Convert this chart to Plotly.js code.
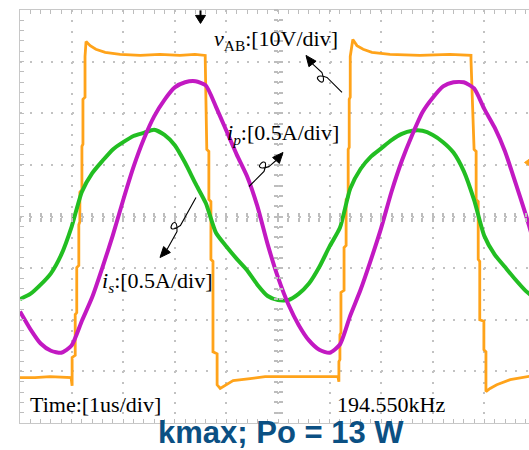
<!DOCTYPE html>
<html><head><meta charset="utf-8">
<script src="https://cdn.plot.ly/plotly-3.0.1.min.js"></script>
<style>html,body{margin:0;padding:0;background:#fff;}#chart{width:529px;height:450px;}</style>
</head><body><div id="chart"></div>
<script>
// ---- data (time in us, 1 us/div; vAB in V, 10 V/div; currents in A, 0.5 A/div) ----
const tV = [
  0, 0.29, 0.58, 0.87, 0.99, 1.01, 1.01, 1.07, 1.07, 1.10,
  1.10, 1.14, 1.14, 1.16, 1.16, 1.20, 1.20, 1.22, 1.22, 1.26,
  1.26, 1.28, 1.36, 1.47, 1.65, 1.94, 2.33, 2.71, 3.10, 3.39,
  3.59, 3.59, 3.60, 3.62, 3.66, 3.66, 3.70, 3.70, 3.74, 3.74,
  3.82, 3.82, 3.88, 3.97, 4.13, 4.46, 4.75, 5.23, 5.72, 6.16,
  6.18, 6.18, 6.20, 6.20, 6.22, 6.22, 6.28, 6.28, 6.32, 6.32,
  6.36, 6.36, 6.38, 6.38, 6.40, 6.40, 6.45, 6.53, 6.65, 6.82,
  7.17, 7.75, 8.33, 8.74, 8.74, 8.76, 8.80, 8.84, 8.84, 8.88,
  8.88, 8.91, 8.91, 8.99, 8.99, 9.03, 9.03, 9.11, 9.24, 9.50,
  9.86, 9.96
];
const vAB = [
  -31.2, -31.2, -31.0, -31.2, -31.2, -32.8, -27.3, -26.9, -19.0, -18.6,
  -9.9, -9.5, -1.6, -1.0, 4.7, 5.2, 13.6, 14.0, 22.7, 23.1,
  31.0, 33.9, 33.1, 32.4, 31.8, 31.4, 31.2, 31.4, 31.2, 31.4,
  31.2, 30.4, 22.7, 13.0, 12.6, 3.3, 2.9, -8.3, -8.7, -26.2,
  -26.6, -32.6, -33.3, -32.8, -31.8, -31.4, -31.0, -31.0, -31.0, -31.0,
  -32.0, -28.1, -27.7, -22.9, -22.5, -14.7, -14.3, -6.0, -5.6, 3.3,
  3.7, 13.0, 13.4, 22.7, 23.1, 31.0, 34.3, 33.1, 32.4, 31.8,
  31.4, 31.2, 31.4, 31.2, 30.4, 22.7, 13.0, 12.6, 3.3, 2.9,
  -8.3, -8.7, -20.0, -20.3, -25.8, -26.2, -33.9, -33.3, -32.6, -31.6,
  -31.0, -30.8
];
const tI = [
  0, 0.2, 0.4, 0.6, 0.8, 1.0, 1.2, 1.4, 1.6, 1.8,
  2.0, 2.2, 2.4, 2.6, 2.8, 3.0, 3.2, 3.4, 3.6, 3.8,
  4.0, 4.2, 4.4, 4.6, 4.8, 5.0, 5.2, 5.4, 5.6, 5.8,
  6.0, 6.2, 6.4, 6.6, 6.8, 7.0, 7.2, 7.4, 7.6, 7.8,
  8.0, 8.2, 8.4, 8.6, 8.8, 9.0, 9.2, 9.4, 9.6, 9.8,
  10.0
];
const iP = [
  -0.92, -1.09, -1.23, -1.30, -1.32, -1.25, -1.01, -0.78, -0.49, -0.18,
  0.16, 0.48, 0.75, 0.97, 1.13, 1.25, 1.30, 1.31, 1.27, 1.06,
  0.83, 0.60, 0.39, 0.10, -0.27, -0.59, -0.85, -1.05, -1.20, -1.29,
  -1.32, -1.24, -0.96, -0.71, -0.42, -0.11, 0.24, 0.54, 0.79, 1.01,
  1.15, 1.26, 1.30, 1.30, 1.24, 1.04, 0.86, 0.63, 0.33, 0.02,
  -0.32
];
const iS = [
  -0.80, -0.75, -0.66, -0.55, -0.37, -0.10, 0.24, 0.42, 0.54, 0.65,
  0.72, 0.78, 0.81, 0.84, 0.79, 0.69, 0.52, 0.32, 0.13, -0.16,
  -0.29, -0.41, -0.52, -0.66, -0.77, -0.81, -0.81, -0.75, -0.65, -0.49,
  -0.29, -0.11, 0.27, 0.46, 0.58, 0.66, 0.74, 0.80, 0.83, 0.83,
  0.79, 0.72, 0.62, 0.44, 0.16, -0.19, -0.37, -0.49, -0.61, -0.72,
  -0.80
];
const labelVAB = '<i>v</i><sub>AB</sub>:[10V/div]';
const labelIP = '<i>i</i><sub><i>p</i></sub>:[0.5A/div]';
const labelIS = '<i>i</i><sub><i>s</i></sub>:[0.5A/div]';
const labelTime = 'Time:[1us/div]';
const labelFreq = '194.550kHz';
const caption = 'kmax; Po = 13 W';

// ---- helpers for decoration geometry (screen px of the 529x450 frame -> axis units) ----
const PXDIV = 51.6;
const X = px => (px - 20) / PXDIV;
const Y = py => (217 - py) / PXDIV * 10;
const pt = (p) => X(p[0]).toFixed(4) + ',' + Y(p[1]).toFixed(4);
function loopArrow(tail, a, s, base, tip, hw, nsign) {
  const dx = base[0] - tail[0], dy = base[1] - tail[1];
  const L = Math.hypot(dx, dy);
  const u = [dx / L, dy / L];
  const n = nsign > 0 ? [-u[1], u[0]] : [u[1], -u[0]];
  const p1 = [a[0] + s * (3 * u[0] + 1.5 * n[0]), a[1] + s * (3 * u[1] + 1.5 * n[1])];
  const p2 = [a[0] + s * (-2 * u[0] + 1.5 * n[0]), a[1] + s * (-2 * u[1] + 1.5 * n[1])];
  const p3 = [a[0] + s * u[0], a[1] + s * u[1]];
  const curve = 'M' + pt(tail) + ' L' + pt(a) + ' C' + pt(p1) + ' ' + pt(p2) + ' ' + pt(p3) + ' L' + pt(base);
  const hx = tip[0] - base[0], hy = tip[1] - base[1];
  const hl = Math.hypot(hx, hy);
  const pp = [-hy / hl, hx / hl];
  const head = 'M' + pt(tip) + ' L' + pt([base[0] + hw * pp[0], base[1] + hw * pp[1]]) +
               ' L' + pt([base[0] - hw * pp[0], base[1] - hw * pp[1]]) + ' Z';
  return [
    {type: 'path', xref: 'x', yref: 'y', path: curve, line: {color: '#000', width: 1.1}, fillcolor: 'rgba(0,0,0,0)', layer: 'above'},
    {type: 'path', xref: 'x', yref: 'y', path: head, line: {color: '#000', width: 1}, fillcolor: '#000', layer: 'above'}
  ];
}

const shapes = [].concat(
  loopArrow([342, 93], [327, 78], 7, [312.5, 64.5], [306, 56], 4.5, -1),
  loopArrow([249, 187], [264, 172], 7, [276, 161], [283, 153], 4.5, -1),
  loopArrow([196, 198], [180.4, 226], 7, [167, 250], [160, 258], 4.5, 1),
  [
    // trigger position marker (top)
    {type: 'path', xref: 'x', yref: 'y', path: 'M' + pt([200.5, 11]) + ' L' + pt([200.5, 17]),
     line: {color: '#000', width: 2}},
    {type: 'path', xref: 'x', yref: 'y',
     path: 'M' + pt([195.5, 16]) + ' L' + pt([205.5, 16]) + ' L' + pt([200.5, 24]) + ' Z',
     line: {color: '#000', width: 1}, fillcolor: '#000'},
    // channel level marker (right edge)
    {type: 'path', xref: 'x', yref: 'y',
     path: 'M' + pt([524.5, 163]) + ' L' + pt([531, 158.5]) + ' L' + pt([531, 167.5]) + ' Z',
     line: {color: '#FFA31A', width: 1}, fillcolor: '#FFA31A'}
  ]
);

const GRID = '#c2c2c2';
const TICK = '#bdbdbd';
const xr = [0, 509 / PXDIV];
const serif = 'Liberation Serif, Times New Roman, serif';

const traces = [
  {x: tV, y: vAB, type: 'scatter', mode: 'lines', xaxis: 'x', yaxis: 'y',
   line: {color: '#FFA31A', width: 2.8}},
  {x: tI, y: iS, type: 'scatter', mode: 'lines', xaxis: 'x', yaxis: 'y2',
   line: {color: '#22BE22', width: 4, shape: 'spline', smoothing: 0.6}},
  {x: tI, y: iP, type: 'scatter', mode: 'lines', xaxis: 'x', yaxis: 'y2',
   line: {color: '#C219C2', width: 4, shape: 'spline', smoothing: 0.6}},
  // carriers for the centre graticule tick axes
  {x: [], y: [], xaxis: 'x2', yaxis: 'y', type: 'scatter', showlegend: false},
  {x: [], y: [], xaxis: 'x3', yaxis: 'y', type: 'scatter', showlegend: false},
  {x: [], y: [], xaxis: 'x', yaxis: 'y3', type: 'scatter', showlegend: false},
  {x: [], y: [], xaxis: 'x', yaxis: 'y4', type: 'scatter', showlegend: false}
];

const centerTickX = (dir) => ({
  overlaying: 'x', anchor: 'free', position: 0.5, range: xr, side: 'bottom',
  showgrid: false, zeroline: false, showline: false, showticklabels: false,
  ticks: dir, ticklen: 4, tickwidth: 2, tickcolor: TICK, tick0: 0, dtick: 0.2
});
const centerTickY = (dir) => ({
  overlaying: 'y', anchor: 'free', position: 5 / xr[1], range: [-40, 40], side: 'left',
  showgrid: false, zeroline: false, showline: false, showticklabels: false,
  ticks: dir, ticklen: 4, tickwidth: 2, tickcolor: TICK, tick0: 0, dtick: 2
});

const layout = {
  width: 529, height: 450,
  margin: {l: 20, r: 0, t: 10, b: 27, pad: 0},
  paper_bgcolor: '#fff', plot_bgcolor: '#fff',
  showlegend: false,
  xaxis: {
    range: xr, tick0: 0, dtick: 1, showgrid: true, gridcolor: GRID, gridwidth: 2,
    griddash: '2px,8.32px', zeroline: false, showline: true, linecolor: '#c8c8c8',
    linewidth: 1, mirror: 'ticks', ticks: 'inside', ticklen: 4, tickcolor: TICK,
    showticklabels: false,
    minor: {dtick: 0.2, tick0: 0, ticks: 'inside', ticklen: 4, tickcolor: TICK, showgrid: false}
  },
  yaxis: {
    range: [-40, 40], tick0: 0, dtick: 10, showgrid: true, gridcolor: GRID, gridwidth: 2,
    griddash: '2px,8.32px', zeroline: false, showline: true, linecolor: '#c8c8c8',
    linewidth: 1, mirror: false, ticks: 'inside', ticklen: 4, tickcolor: TICK,
    showticklabels: false,
    minor: {dtick: 2, tick0: 0, ticks: 'inside', ticklen: 4, tickcolor: TICK, showgrid: false}
  },
  yaxis2: {overlaying: 'y', range: [-2, 2], visible: false},
  xaxis2: centerTickX('inside'),
  xaxis3: centerTickX('outside'),
  yaxis3: centerTickY('inside'),
  yaxis4: centerTickY('outside'),
  shapes: shapes,
  annotations: [
    {x: X(212), y: Y(41), xref: 'x', yref: 'y', xanchor: 'left', yanchor: 'middle', showarrow: false,
     text: labelVAB, font: {family: serif, size: 22, color: '#000'}},
    {x: X(225), y: Y(135), xref: 'x', yref: 'y', xanchor: 'left', yanchor: 'middle', showarrow: false,
     text: labelIP, font: {family: serif, size: 22, color: '#000'}},
    {x: X(100), y: Y(282), xref: 'x', yref: 'y', xanchor: 'left', yanchor: 'middle', showarrow: false,
     text: labelIS, font: {family: serif, size: 22, color: '#000'}},
    {x: X(28), y: Y(405), xref: 'x', yref: 'y', xanchor: 'left', yanchor: 'middle', showarrow: false,
     text: labelTime, font: {family: serif, size: 22, color: '#000'}},
    {x: X(335), y: Y(405), xref: 'x', yref: 'y', xanchor: 'left', yanchor: 'middle', showarrow: false,
     text: labelFreq, font: {family: serif, size: 22, color: '#000'}},
    {x: (281 - 20) / 509, y: (423 - 432) / 413, xref: 'paper', yref: 'paper', xanchor: 'center', yanchor: 'middle',
     showarrow: false, text: '<b>' + caption + '</b>',
     font: {family: 'Liberation Sans, Arial, sans-serif', size: 31, color: '#0B5083'}}
  ]
};

Plotly.newPlot('chart', traces, layout, {staticPlot: true, displayModeBar: false});
</script>
</body></html>
